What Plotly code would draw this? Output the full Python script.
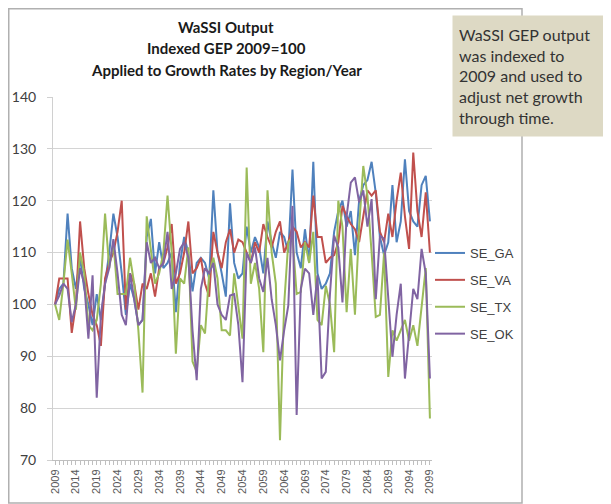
import plotly.graph_objects as go

years = list(range(2009, 2100))
tick_years = list(range(2009, 2100, 5))

se_ga = [100,103,104,117.5,107,103,109,103,100,96,
 102,97,104,110,117.5,113,106,98,104,101,
 96,97,113,116.5,106,112,107,108,110,98.5,
 108,113,110,102.5,108,109,108,105,122,110,
 106,101.5,119.5,108,105,106,115,110,113,111,
 106,116,112,109,114,113,110,126,110,107,
 114.5,108,127.5,106,103,104,106,114,118,120,
 115,118,109.5,120,123,124,127.5,121.5,113,109.5,
 112,123,112,116,128,118,116,115,123,124.8,
 116]
se_va = [100,105,105,105,94.5,100,116,107,102,98,
 96,92,105,108,110,114,120,99,106,104,
 99,104,103,106,101.5,107,108,111,115.5,104,
 106,110,116,106,107,109,104,101.5,114,110,
 107,112,114.5,110,112.5,112,110,108,112,110,
 115.5,113,111,114,116,110,112,115,114,111,
 112,111,121,113,113,108,109,109.5,112,119,
 117,115.5,114.5,112,117,122,121,122,114,112,
 117.5,113,120,125.4,117,110.7,129.3,118,113,121.6,
 110]
se_tx = [100,97,104,112.5,106,99,110,106,96,95,
 97,104,117.5,107,112,102,102,102,109,104,
 95,83,117,110,104,106,110,121,110,90.5,
 105,104,111,89,87,96,94.4,106,109,105,
 95,95,94,106,100,93.4,126.4,104,108,103,
 90.8,122,110,104,73.8,100,112,113,102,102.4,
 112,108,114,97,96,103.6,100,90.8,120,115,
 98.5,110.7,98,115,126.7,121,110,97.6,98,110,
 86,95,93,95,97,93,96,92,100,107,
 78]
se_ok = [100,101.7,104,103,96.6,100,107,104,93.4,105.6,
 82,98,104,107,112.6,106,98,96,106,101,
 96,97,112,108,109,107,108,114,103,106,
 110.7,112,109,95,85.4,103,107,106,108,100,
 98,97,101.7,102,96,85,110,108,111,105,
 102.4,109,101,96,89.2,95,99.8,119,78.7,103,
 106.9,106,98,105.6,85.7,87,102,113.3,111,100.4,
 117,123.5,124.5,119.7,122,115,120.3,101,113.3,112.6,
 102,89.9,98,104,85.7,95,103,101,110.7,106,
 85.7]

title_lines = ["WaSSI Output", "Indexed GEP 2009=100", "Applied to Growth Rates by Region/Year"]
note_text = "WaSSI GEP output<br>was indexed to<br>2009 and used to<br>adjust net growth<br>through time."

series = [("SE_GA", se_ga, "#4F81BD"), ("SE_VA", se_va, "#C0504D"),
          ("SE_TX", se_tx, "#9BBB59"), ("SE_OK", se_ok, "#8064A2")]

fig = go.Figure()
for name, vals, col in series:
    fig.add_trace(go.Scatter(x=years, y=vals, mode="lines", name=name,
                             legendgroup=name,
                             line=dict(color=col, width=2)))

# page body has an 8px margin; work in page pixels and subtract it
OFF = 8
PW, PH = 611, 504
W, H = PW - OFF, PH - OFF
L, R, T, B = 53 - OFF, 432 - OFF, 97 - OFF, 460 - OFF
pw, ph = R - L, B - T
def px(x):
    return (x - OFF - L) / pw
def py(y):
    return (B - (y - OFF)) / ph

fig.update_layout(
    width=W, height=H,
    margin=dict(l=L, r=W - R, t=T, b=H - B, autoexpand=False),
    paper_bgcolor="white", plot_bgcolor="white",
    showlegend=True,
    legend=dict(x=px(430), y=py(238), xanchor="left", yanchor="top",
                traceorder="grouped", tracegroupgap=7,
                font=dict(family="Liberation Sans, Arial", size=13, color="#404040"),
                bgcolor="rgba(0,0,0,0)"),
    xaxis=dict(range=[2008.5, 2099.5], tickmode="array", tickvals=tick_years,
               ticktext=[str(t) for t in tick_years], tickangle=-90,
               ticks="outside", ticklen=4, tickcolor="#bfbfbf",
               minor=dict(dtick=1, tick0=2009, ticks="outside", ticklen=4, tickcolor="#bfbfbf", showgrid=False),
               showgrid=False, showline=True, linecolor="#bfbfbf", linewidth=1,
               zeroline=False,
               tickfont=dict(family="Liberation Sans, Arial", size=11, color="#595959")),
    yaxis=dict(range=[70, 140], tickmode="array", tickvals=[70, 80, 90, 100, 110, 120, 130, 140],
               ticks="outside", ticklen=5, tickcolor="#d0d0d0", ticklabelstandoff=8,
               showgrid=True, gridcolor="#d4d4d4", gridwidth=1,
               showline=True, linecolor="#d0d0d0", linewidth=1, zeroline=False,
               tickfont=dict(family="Lato, Noto Sans", size=14, color="#404040")),
)

# chart border (left/top edges sit at the figure edge)
fig.add_shape(type="rect", xref="paper", yref="paper",
              x0=px(OFF + 0.75), x1=px(522), y0=py(503), y1=py(OFF + 0.75),
              line=dict(color="#b0b0b0", width=1.5), fillcolor="rgba(0,0,0,0)", layer="below")

# title lines
for line_text, yc in zip(title_lines, [27, 48, 70]):
    fig.add_annotation(xref="paper", yref="paper", x=px(226), y=py(yc),
                       xanchor="center", yanchor="middle", showarrow=False,
                       text="<b>" + line_text + "</b>",
                       font=dict(family="Lato, Noto Sans", size=15, color="#1a1a1a"))

# annotation box
fig.add_annotation(xref="paper", yref="paper", x=px(452), y=py(15),
                   xanchor="left", yanchor="top", align="left",
                   text=note_text,
                   showarrow=False, bgcolor="#DDD9C4", borderpad=6,
                   width=165, height=108,
                   font=dict(family="Lato, Noto Sans", size=16, color="#333333"))

fig.write_html("out.html")
